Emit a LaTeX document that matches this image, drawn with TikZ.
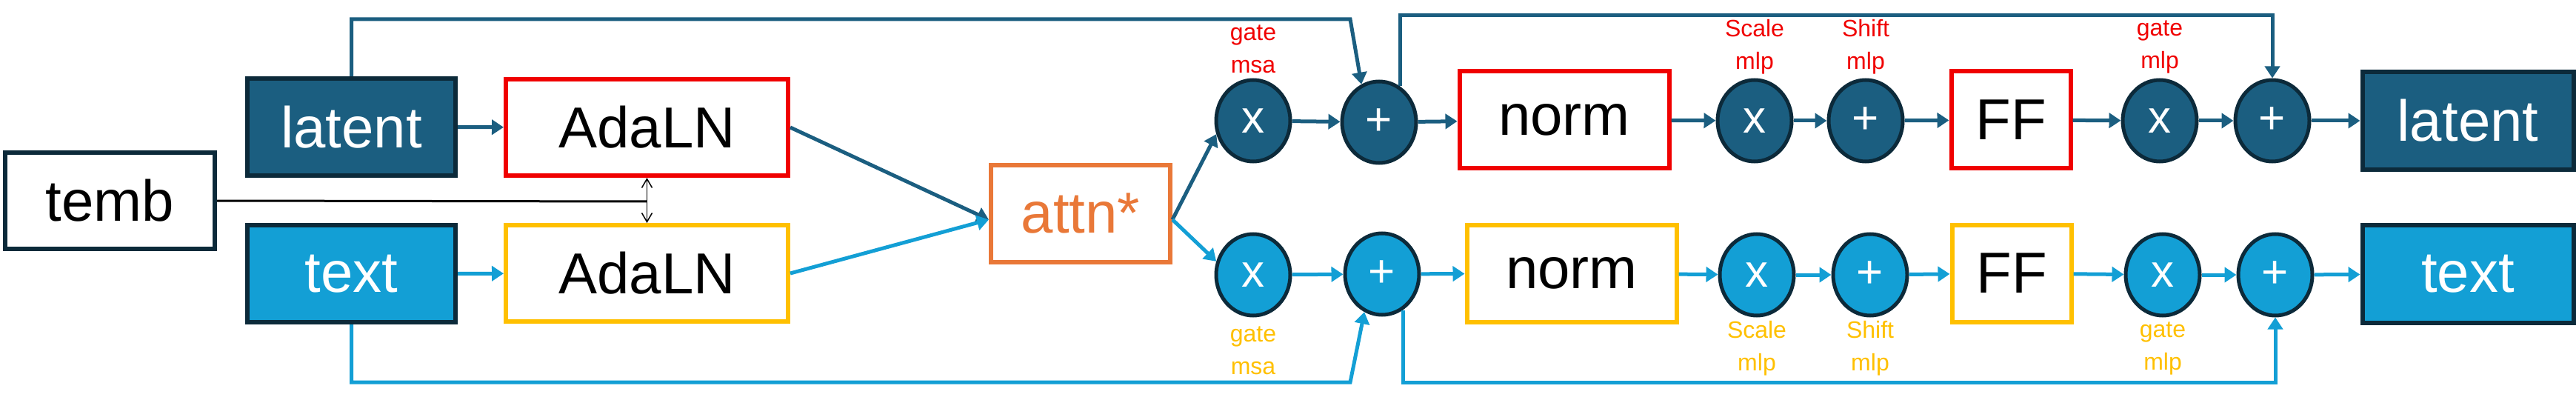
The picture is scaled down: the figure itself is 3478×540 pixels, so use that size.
\documentclass[tikz,border=0pt]{standalone}
\usepackage{fontspec}
\setmainfont{Liberation Sans}
\usetikzlibrary{arrows.meta,shapes.geometric}
\definecolor{dkblue}{HTML}{1B5E80}
\definecolor{ltblue}{HTML}{139FD5}
\definecolor{navy}{HTML}{0C2A3A}
\definecolor{ared}{HTML}{F00000}
\definecolor{agold}{HTML}{FFC000}
\definecolor{aorange}{HTML}{E97838}
\tikzset{
  box/.style={draw, line width=6pt, fill=white, inner sep=0pt, font=\fontsize{78}{80}\selectfont},
  fillbox/.style={box, draw=navy, text=white},
  op/.style={ellipse, draw=navy, line width=5pt, text=white, minimum width=100, minimum height=110, inner sep=0pt, font=\fontsize{62}{64}\selectfont},
  flow/.style={line width=5pt, -{Triangle[length=16pt,width=20pt]}},
  lbl/.style={align=center, font=\fontsize{32}{44}\selectfont}
}
\begin{document}
\begin{tikzpicture}[x=1pt,y=-1pt]
    \useasboundingbox (0,0) rectangle (3478,540);
    % left part
    \node[box, draw=navy, minimum width=283, minimum height=130] (temb) at (148.5,271) {temb};
    \node[fillbox, fill=dkblue, minimum width=281, minimum height=131] (latent) at (474.5,171.5) {latent};
    \node[fillbox, fill=ltblue, minimum width=281, minimum height=131] (text) at (474.5,369.5) {text};
    \node[box, draw=ared, minimum width=381, minimum height=130] (adaa) at (873.5,172) {AdaLN};
    \node[box, draw=agold, minimum width=381, minimum height=130] (adab) at (873.5,369) {AdaLN};
    \node[box, draw=aorange, text=aorange, minimum width=242, minimum height=131] (attn) at (1459,288.5) {attn*};
    % top row
    \node[op, fill=dkblue] (xa) at (1692,163) {x};
    \node[op, fill=dkblue] (pa) at (1862,165) {+};
    \node[box, draw=ared, minimum width=283, minimum height=131] (norma) at (2112,162) {norm};
    \node[op, fill=dkblue] (sxa) at (2369,163) {x};
    \node[op, fill=dkblue] (spa) at (2519,163) {+};
    \node[box, draw=ared, minimum width=161, minimum height=131] (ffa) at (2715,162) {FF};
    \node[op, fill=dkblue] (gxa) at (2916,163) {x};
    \node[op, fill=dkblue] (ppa) at (3068,163) {+};
    \node[fillbox, fill=dkblue, minimum width=285, minimum height=132] (outa) at (3332,163) {latent};
    % bottom row
    \node[op, fill=ltblue] (xb) at (1692,371) {x};
    \node[op, fill=ltblue] (pb) at (1866,370) {+};
    \node[box, draw=agold, minimum width=283, minimum height=131] (normb) at (2122,369) {norm};
    \node[op, fill=ltblue] (sxb) at (2372,371) {x};
    \node[op, fill=ltblue] (spb) at (2525,371) {+};
    \node[box, draw=agold, minimum width=161, minimum height=131] (ffb) at (2716,369) {FF};
    \node[op, fill=ltblue] (gxb) at (2920,371) {x};
    \node[op, fill=ltblue] (ppb) at (3072,371) {+};
    \node[fillbox, fill=ltblue, minimum width=285, minimum height=132] (outb) at (3332,370) {text};
    % labels
    \node[lbl, text=ared] (la1) at (1692,66) {gate\\msa};
    \node[lbl, text=ared] (la2) at (2369,63) {Scale\\mlp};
    \node[lbl, text=ared] (la3) at (2519,63) {Shift\\mlp};
    \node[lbl, text=ared] (la4) at (2916,63) {gate\\mlp};
    \node[lbl, text=agold] (lb1) at (1692,473) {gate\\msa};
    \node[lbl, text=agold] (lb2) at (2372,470) {Scale\\mlp};
    \node[lbl, text=agold] (lb3) at (2525,470) {Shift\\mlp};
    \node[lbl, text=agold] (lb4) at (2920,470) {gate\\mlp};
    % temb
    \coordinate (tj) at (873.5,272);
    \draw[line width=3pt] (temb.east) -- (tj);
    \draw[line width=1.5pt, {Straight Barb[length=12pt,width=14pt]}-{Straight Barb[length=12pt,width=14pt]}] (adaa.south) -- (adab.north);
    % chains
    \foreach \a/\b in {latent/adaa, xa/pa, pa/norma, norma/sxa, sxa/spa, spa/ffa, ffa/gxa, gxa/ppa, ppa/outa}
        \draw[flow, dkblue] (\a) -- (\b);
    \foreach \a/\b in {text/adab, xb/pb, pb/normb, normb/sxb, sxb/spb, spb/ffb, ffb/gxb, gxb/ppb, ppb/outb}
        \draw[flow, ltblue] (\a) -- (\b);
    \draw[flow, dkblue] (adaa.east) -- ([yshift=-8pt]attn.west);
    \draw[flow, ltblue] (adab.east) -- ([yshift=-8pt]attn.west);
    \draw[flow, dkblue] ([yshift=-8pt]attn.east) -- (xa.200);
    \draw[flow, ltblue] ([yshift=-8pt]attn.east) -- (xb.160);
    % residuals
    \coordinate (ta) at (1823,26);
    \coordinate (tb) at (3068,21);
    \coordinate (ba) at (1823,516);
    \coordinate (bb) at (3072,516);
    \draw[flow, dkblue] (latent.north) |- (ta) -- (pa.115);
    \draw[flow, dkblue] (pa.60) |- (tb) -- (ppa.north);
    \draw[flow, ltblue] (text.south) |- (ba) -- (pb.245);
    \draw[flow, ltblue] (pb.-60) |- (bb) -- (ppb.south);
\end{tikzpicture}
\end{document}
